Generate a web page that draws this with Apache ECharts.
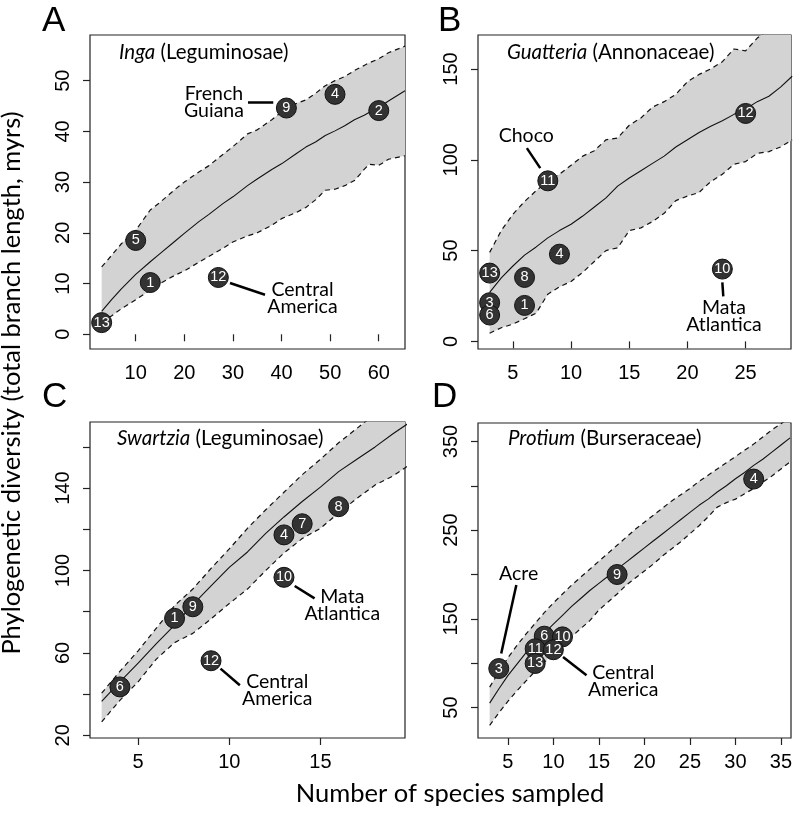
<!DOCTYPE html>
<html><head><meta charset="utf-8">
<script src="https://cdn.jsdelivr.net/npm/echarts@6/dist/echarts.min.js"></script>
<style>html,body{margin:0;padding:0;background:#fff}#c{width:793px;height:813px}</style>
</head><body><div id="c"></div>
<script>
// ---------- Panel A: Inga ----------
const aX     = [3,5,7,10,13,15,18,20,23,25,28,30,33,35,38,40,43,45,47,49,51,53,55,57,58,60,62,65.4];
const aMean  = [4.5,6.8,8.9,11.8,14.3,15.9,18.3,19.9,22.2,23.6,25.8,27.1,29.3,30.6,32.5,33.6,35.6,36.9,37.9,39.2,40.1,41.1,42.3,43.2,43.7,44.7,46,48];
const aLower = [2.3,3.6,5,6.8,8.7,10,11.6,12.5,14.2,15.3,17,18.2,19.4,20,21.5,22.8,24,25,26.5,28.4,28.6,29.3,30.3,32.5,33.5,33.3,34.5,35.2];
const aUpper = [13.3,15.5,17.8,20.5,24.5,26,28.5,30,32,33.2,35.5,37,39.5,40.3,42.3,43.8,45.5,46.2,47.5,49,50,50.8,52,53,53.5,54.3,55.5,56.8];
const aSiteId = [1,2,4,5,9,12,13];
const aSiteX  = [13,60,51,10,41,27,3];
const aSiteY  = [10.2,44.1,47.3,18.5,44.6,11.2,2.3];
const aTickX = [10,20,30,40,50,60];
const aTickY = [0,10,20,30,40,50];
const aLabelY = [0,10,20,30,40,50];

// ---------- Panel B: Guatteria ----------
const bX     = [3,4,5,6,7,8,9,10,11,12,13,14,15,16,17,18,19,20,21,22,23,24,25,26,27,28,29];
const bMean  = [27,35,41.5,47.5,52,57,61,64.5,69,74,79,85.5,90,94,98,102,107,111,115,118.5,121.5,125,128,132,135,140,146];
const bLower = [4.5,7.5,9.5,12.5,15.5,26,30,33,38,44,50,51.5,61,62.5,66,70.5,77.5,80,82,88,92,97.5,99,103.5,104.5,107,111];
const bUpper = [49,61,70,77,83,88,92,97,102,105,111,112,119,123,129,132,136,143,147,150,154,161,160,167,172,176,180];
const bSiteId = [1,3,4,6,8,10,11,12,13];
const bSiteX  = [6,3,9,3,6,23,8,25,3];
const bSiteY  = [19.8,21.3,48,14.5,35.2,39.8,88.4,125.5,37.6];
const bTickX = [5,10,15,20,25];
const bTickY = [0,50,100,150];
const bLabelY = [0,50,100,150];

// ---------- Panel C: Swartzia ----------
const cX     = [3,4,5,6,7,8,9,10,11,12,13,14,15,16,17,18,19,20];
const cMean  = [36.5,46,55,64.5,73.5,83.5,92.5,101.5,109,118,126,133.5,140.5,148,154,160,166.5,172.5];
const cLower = [26.5,37,46,57,65,69.5,76.5,84,91,100,108.5,115.5,120.5,128,135,141.5,146,152];
const cUpper = [40.5,51,61,72,83,91,101,110.5,120.5,129.5,138,146.5,154,162,169,176,183,190];
const cSiteId = [1,4,6,7,8,9,10,12];
const cSiteX  = [7,13,4,14,16,8,13,9];
const cSiteY  = [76.8,117.3,43.5,122.7,131,82.4,96.7,56.2];
const cTickX = [5,10,15];
const cTickY = [20,40,60,80,100,120,140,160];
const cLabelY = [20,60,100,140];

// ---------- Panel D: Protium ----------
const dX     = [3,4,5,6,7,8,9,10,11,12,13,14,15,16,17,18,19,20,21,22,23,24,25,26,27,28,29,30,31,32,33,34,35,36];
const dMean  = [55,71,86,99,112,123,134,144,154,164,173,182,190,198,206,214,222,230,238,246,254,262,270,278,285,293,300,308,315,323,330,338,346,354];
const dLower = [30,44,57,69,80,91,101,111,121,130,139,148,160,169,178,188,196,204,212,221,229,237,246,255,265,276,281,285,291,297,304,311,319,327];
const dUpper = [73,90,106,120,133,145,157,168,178,188,197,206,215,224,233,242,251,259,267,275,283,290,297,305,312,319,326,333,340,347,355,363,370,377];
const dSiteId = [3,4,6,9,10,11,12,13];
const dSiteX  = [4,32,9,17,11,8,10,8];
const dSiteY  = [94,307.6,130.5,200,129.7,116.3,115.2,99.7];
const dTickX = [5,10,15,20,25,30,35];
const dTickY = [50,100,150,200,250,300,350];
const dLabelY = [50,150,250,350];

// ---------- Annotations (data coordinates) ----------
const aNotes = [['French\nGuiana',26.1,45.7],['Central\nAmerica',44.3,7.2]];
const aLinks = [[[33.1,45.8],[38.3,45.8]],[[29.4,10.1],[36.6,7.8]]];
const bNotes = [['Choco',6.15,113.1],['Mata\nAtlantica',23.14,13.75]];
const bLinks = [[[6.2,106.4],[7.35,95.4]],[[23.0,32.5],[23.08,24.75]]];
const cNotes = [['Mata\nAtlantica',16.2,83.2],['Central\nAmerica',12.63,41.9]];
const cLinks = [[[13.59,92.5],[14.68,86.5]],[[9.52,52.4],[10.58,44.3]]];
const dNotes = [['Acre',6.18,201.3],['Central\nAmerica',17.67,79.7]];
const dLinks = [[[5.93,188.1],[4.27,111]],[[11.06,107.1],[13.64,86.5]]];

const panels = [
  {grid:[90,35,315,314],  xr:[0.6,65.4], yr:[-2.9,59],   x:aX,m:aMean,lo:aLower,up:aUpper,sid:aSiteId,sx:aSiteX,sy:aSiteY,tx:aTickX,ty:aTickY,ly:aLabelY,notes:aNotes,links:aLinks},
  {grid:[478,35,313,314], xr:[2,28.9],   yr:[-4.2,168.7],x:bX,m:bMean,lo:bLower,up:bUpper,sid:bSiteId,sx:bSiteX,sy:bSiteY,tx:bTickX,ty:bTickY,ly:bLabelY,notes:bNotes,links:bLinks},
  {grid:[90,422,315,316], xr:[2.36,19.64],yr:[18.7,172.1],x:cX,m:cMean,lo:cLower,up:cUpper,sid:cSiteId,sx:cSiteX,sy:cSiteY,tx:cTickX,ty:cTickY,ly:cLabelY,notes:cNotes,links:cLinks},
  {grid:[478,423,313,315],xr:[1.72,36.1], yr:[15.7,370.8],x:dX,m:dMean,lo:dLower,up:dUpper,sid:dSiteId,sx:dSiteX,sy:dSiteY,tx:dTickX,ty:dTickY,ly:dLabelY,notes:dNotes,links:dLinks}
];

const grids=[], xAxes=[], yAxes=[], series=[];
const zip=(a,b)=>a.map((v,i)=>[v,b[i]]);
const tickFont = {fontSize:20, color:'#000', fontFamily:'Liberation Sans, Arial, sans-serif'};
panels.forEach((p,i)=>{
  grids.push({left:p.grid[0], top:p.grid[1], width:p.grid[2], height:p.grid[3], show:true, borderColor:'#222', borderWidth:1.2, backgroundColor:'transparent', containLabel:false, outerBoundsMode:'none'});
  xAxes.push({gridIndex:i, type:'value', min:p.xr[0], max:p.xr[1],
    axisLine:{show:false}, splitLine:{show:false},
    axisTick:{show:true, inside:false, length:7, customValues:p.tx, lineStyle:{color:'#222', width:1.2}},
    axisLabel:Object.assign({customValues:p.tx, margin:14}, tickFont)});
  yAxes.push({gridIndex:i, type:'value', min:p.yr[0], max:p.yr[1],
    axisLine:{show:false}, splitLine:{show:false},
    axisTick:{show:true, inside:false, length:7, customValues:p.ty, lineStyle:{color:'#222', width:1.2}},
    axisLabel:Object.assign({customValues:p.ly, margin:17, rotate:90}, tickFont)});
  const common = {xAxisIndex:i, yAxisIndex:i, symbol:'none', showSymbol:false, silent:true, animation:false, clip:true};
  // grey envelope between lower and upper bounds
  series.push({type:'custom', xAxisIndex:i, yAxisIndex:i, silent:true, animation:false, clip:true,
    data:p.x.map((x,k)=>[x,p.lo[k],p.up[k]]),
    encode:{x:0, y:[1,2]},
    renderItem:(params, api)=>{
      if (params.dataIndex !== 0) return null;
      const pts=[];
      for (let k=0;k<p.x.length;k++) pts.push(api.coord([p.x[k], p.lo[k]]));
      for (let k=p.x.length-1;k>=0;k--) pts.push(api.coord([p.x[k], p.up[k]]));
      const cs = params.coordSys;
      return {type:'polygon', shape:{points:pts}, style:{fill:'#d3d3d3', stroke:null},
        clipPath:{type:'rect', shape:{x:cs.x, y:cs.y, width:cs.width, height:cs.height}}};
    }});
  series.push(Object.assign({type:'line', data:zip(p.x,p.lo), lineStyle:{color:'#111', width:1.2, type:[5,4]}}, common));
  series.push(Object.assign({type:'line', data:zip(p.x,p.up), lineStyle:{color:'#111', width:1.2, type:[5,4]}}, common));
  series.push(Object.assign({type:'line', data:zip(p.x,p.m), lineStyle:{color:'#111', width:1.1}}, common));
  series.push({type:'lines', coordinateSystem:'cartesian2d', xAxisIndex:i, yAxisIndex:i, silent:true, animation:false,
    data:p.links.map(l=>({coords:l})), lineStyle:{color:'#000', width:2.5, opacity:1, curveness:0}});
  series.push({type:'scatter', xAxisIndex:i, yAxisIndex:i, silent:true, animation:false, symbolSize:1,
    itemStyle:{color:'rgba(0,0,0,0)'},
    data:p.notes.map(n=>({value:[n[1],n[2]], name:n[0]})),
    label:{show:true, position:'inside', formatter:(q)=>q.name, color:'#000', opacity:1, textBorderWidth:0, fontSize:19.5, lineHeight:17, fontFamily:'Lato, sans-serif', align:'center'}});
  const sites = p.sid.map((id,k)=>[p.sx[k],p.sy[k],id]);
  series.push({type:'scatter', xAxisIndex:i, yAxisIndex:i, silent:true, animation:false, symbolSize:20, z:5,
    itemStyle:{color:'#333', borderColor:'#111', borderWidth:1, opacity:1},
    data:sites,
    label:{show:true, position:'inside', formatter:(q)=>String(q.value[2]), color:'#fff', textBorderWidth:0, fontSize:14.5, fontFamily:'Liberation Sans, Arial, sans-serif'}});
});

function sub(x,y,genus,fam){
  return {type:'text', x:x, y:y, silent:true, style:{text:'{i|'+genus+'} '+fam, fontFamily:'Lato, sans-serif', fontSize:20.5, fill:'#000', verticalAlign:'middle', align:'left',
    rich:{i:{fontStyle:'italic', fontFamily:'Lato, sans-serif', fontSize:20.5, fill:'#000'}}}};
}
const letter=(t,x,y)=>({type:'text', x:x, y:y, silent:true, style:{text:t, fontFamily:'Liberation Sans, Arial, sans-serif', fontSize:35, fill:'#000', align:'left', verticalAlign:'middle'}});

const chart = echarts.init(document.getElementById('c'), null, {renderer:'canvas'});
chart.setOption({
  animation:false,
  backgroundColor:'#fff',
  grid:grids, xAxis:xAxes, yAxis:yAxes, series:series,
  graphic:[
    letter('A',42,21), letter('B',438,21), letter('C',42,397), letter('D',432,397),
    sub(119,52,'Inga','(Leguminosae)'),
    sub(507,52,'Guatteria','(Annonaceae)'),
    sub(117,438,'Swartzia','(Leguminosae)'),
    sub(508,438,'Protium','(Burseraceae)'),
    {type:'text', x:12, y:383, rotation:Math.PI/2, silent:true, style:{text:'Phylogenetic diversity (total branch length, myrs)', fontFamily:'Lato, sans-serif', fontSize:25.5, fill:'#000', align:'center', verticalAlign:'middle'}},
    {type:'text', x:450, y:794, silent:true, style:{text:'Number of species sampled', fontFamily:'Lato, sans-serif', fontSize:25.5, fill:'#000', align:'center', verticalAlign:'middle'}}
  ]
});
</script></body></html>
